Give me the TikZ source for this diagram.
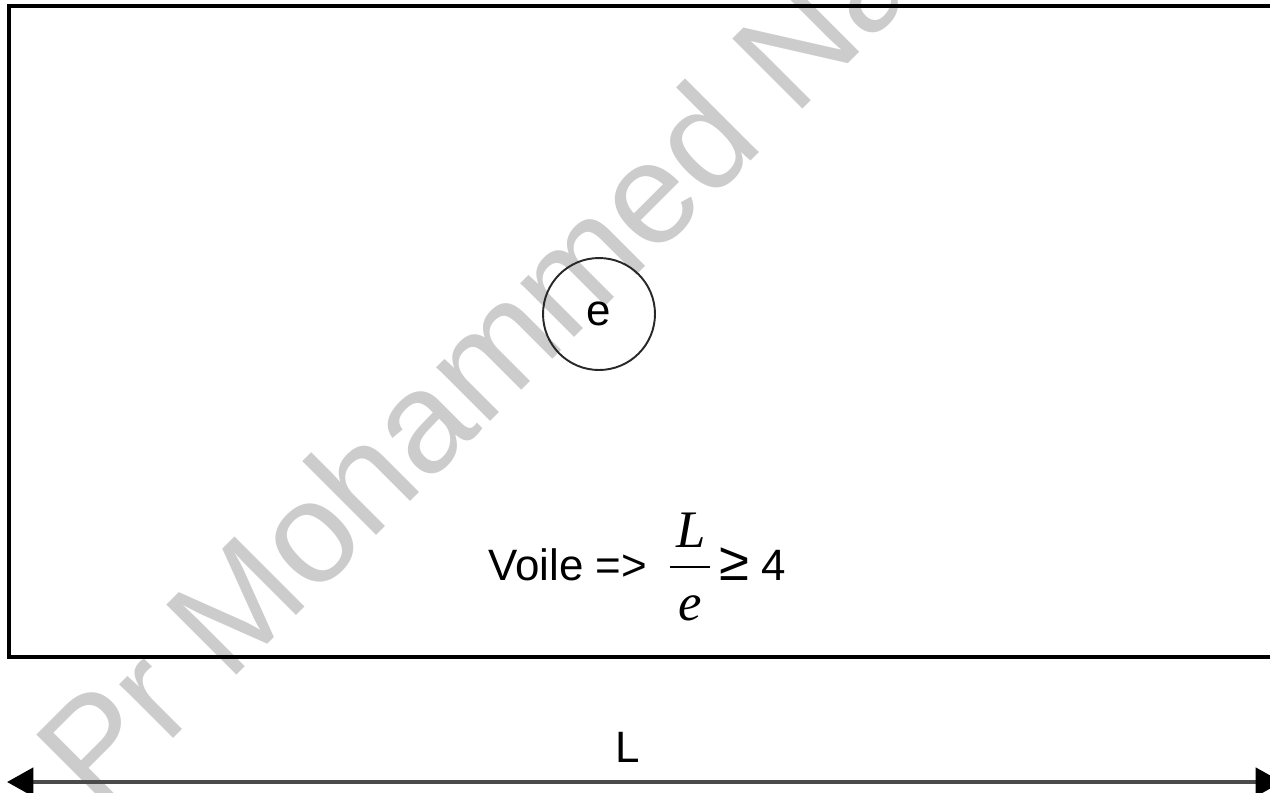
\documentclass[tikz,border=0pt]{standalone}
\usepackage{fontspec}
\setmainfont{Liberation Sans}
\newfontfamily\serifit{Liberation Serif}
\usepackage{tikz}
\usetikzlibrary{arrows.meta,positioning}
\definecolor{cWall}{RGB}{0,0,0}
\definecolor{cRing}{RGB}{40,40,40}
\definecolor{cDim}{RGB}{75,75,75}
\definecolor{cMark}{RGB}{204,204,204}
\tikzset{
  txt/.style={font=\fontsize{25}{30}\selectfont,inner sep=0pt},
  fracpart/.style={font=\serifit\itshape\fontsize{30}{36}\selectfont,inner sep=0pt},
}

\begin{document}
\begin{tikzpicture}[x=0.02cm,y=-0.02cm]
  \useasboundingbox (0,0) rectangle (1270,792);
  \clip (0,0) rectangle (1270,792);
  \node[cMark,rotate=45,anchor=base west,inner sep=0pt,font=\fontsize{82}{96}\selectfont] (mark) at (98,814) {Pr Mohammed Na};
  \draw[cWall,line width=2pt] (9,6) rectangle (1290,657);
  \node[circle,draw=cRing,line width=1.1pt,minimum size=2.24cm,txt] (ecirc) at (599,314) {e};
  \node[txt,anchor=base west] (voile) at (488,580) {Voile =>};
  \node[fracpart,anchor=base] (num) at (691,547) {L};
  \node[fracpart,anchor=base] (den) at (690,620) {e};
  \coordinate (barL) at (670,567);
  \coordinate (barR) at (710,567);
  \draw[line width=0.7pt] (barL) -- (barR);
  \node[txt,anchor=base west] (geq) at (719,580) {{\fontsize{31}{36}\selectfont ≥} 4};
  \coordinate (dimL) at (7,782);
  \coordinate (dimR) at (1282,782);
  \draw[cDim,line width=2.5pt,{Triangle[length=15pt,width=16pt,black]}-{Triangle[length=15pt,width=16pt,black]}] (dimL) -- (dimR);
  \node[txt,anchor=base] (lab) at (628,762) {L};
\end{tikzpicture}
\end{document}
